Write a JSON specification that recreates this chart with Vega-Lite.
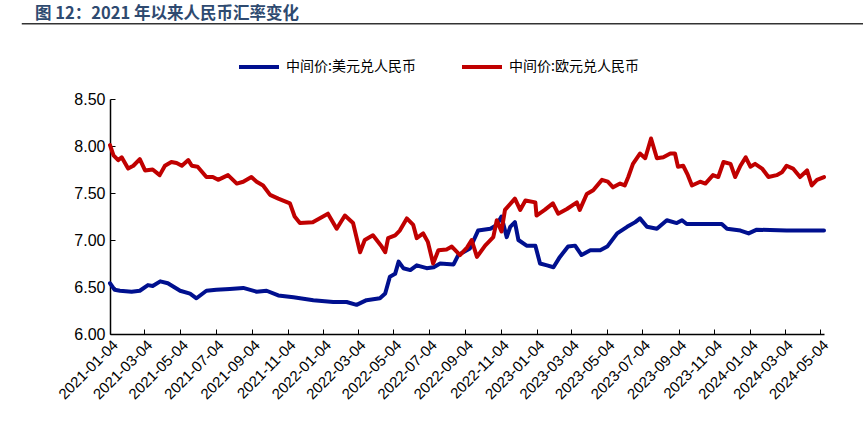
{
  "$schema": "https://vega.github.io/schema/vega-lite/v6.json",
  "autosize": "none",
  "width": 714,
  "height": 235,
  "padding": {"left": 110, "top": 99, "right": 39, "bottom": 109},
  "background": "white",
  "title": {
    "text": "图 12：2021 年以来人民币汇率变化",
    "anchor": "start",
    "frame": "group",
    "dx": -75,
    "offset": 1,
    "font": "Noto Sans CJK SC",
    "fontSize": 16.5,
    "fontWeight": "bold",
    "color": "#2E4A70"
  },
  "config": {
    "view": {"stroke": null},
    "axis": {
      "labelFont": "Liberation Sans",
      "labelColor": "#000",
      "domainColor": "#000",
      "domainWidth": 1.5,
      "tickColor": "#000",
      "tickWidth": 1,
      "tickSize": -5,
      "grid": false,
      "title": null,
      "labelOverlap": false
    },
    "axisX": {"labelOverlap": false}
  },
  "layer": [
    {
      "data": {"values": [
        {"series": "中间价:美元兑人民币", "date": "2021-01-04", "value": 6.54},
        {"series": "中间价:美元兑人民币", "date": "2021-01-12", "value": 6.47},
        {"series": "中间价:美元兑人民币", "date": "2021-01-21", "value": 6.46},
        {"series": "中间价:美元兑人民币", "date": "2021-02-10", "value": 6.45},
        {"series": "中间价:美元兑人民币", "date": "2021-02-24", "value": 6.46},
        {"series": "中间价:美元兑人民币", "date": "2021-03-10", "value": 6.52},
        {"series": "中间价:美元兑人民币", "date": "2021-03-18", "value": 6.51},
        {"series": "中间价:美元兑人民币", "date": "2021-03-31", "value": 6.56},
        {"series": "中间价:美元兑人民币", "date": "2021-04-13", "value": 6.54},
        {"series": "中间价:美元兑人民币", "date": "2021-05-04", "value": 6.46},
        {"series": "中间价:美元兑人民币", "date": "2021-05-21", "value": 6.43},
        {"series": "中间价:美元兑人民币", "date": "2021-06-01", "value": 6.38},
        {"series": "中间价:美元兑人民币", "date": "2021-06-18", "value": 6.46},
        {"series": "中间价:美元兑人民币", "date": "2021-07-05", "value": 6.47},
        {"series": "中间价:美元兑人民币", "date": "2021-07-28", "value": 6.48},
        {"series": "中间价:美元兑人民币", "date": "2021-08-20", "value": 6.49},
        {"series": "中间价:美元兑人民币", "date": "2021-09-12", "value": 6.45},
        {"series": "中间价:美元兑人民币", "date": "2021-09-29", "value": 6.46},
        {"series": "中间价:美元兑人民币", "date": "2021-10-19", "value": 6.41},
        {"series": "中间价:美元兑人民币", "date": "2021-11-14", "value": 6.39},
        {"series": "中间价:美元兑人民币", "date": "2021-12-18", "value": 6.36},
        {"series": "中间价:美元兑人民币", "date": "2022-01-21", "value": 6.34},
        {"series": "中间价:美元兑人民币", "date": "2022-02-13", "value": 6.34},
        {"series": "中间价:美元兑人民币", "date": "2022-03-02", "value": 6.31},
        {"series": "中间价:美元兑人民币", "date": "2022-03-19", "value": 6.36},
        {"series": "中间价:美元兑人民币", "date": "2022-04-11", "value": 6.38},
        {"series": "中间价:美元兑人民币", "date": "2022-04-20", "value": 6.43},
        {"series": "中间价:美元兑人民币", "date": "2022-04-28", "value": 6.61},
        {"series": "中间价:美元兑人民币", "date": "2022-05-07", "value": 6.64},
        {"series": "中间价:美元兑人民币", "date": "2022-05-13", "value": 6.77},
        {"series": "中间价:美元兑人民币", "date": "2022-05-21", "value": 6.70},
        {"series": "中间价:美元兑人民币", "date": "2022-06-02", "value": 6.68},
        {"series": "中间价:美元兑人民币", "date": "2022-06-13", "value": 6.73},
        {"series": "中间价:美元兑人民币", "date": "2022-06-30", "value": 6.70},
        {"series": "中间价:美元兑人民币", "date": "2022-07-12", "value": 6.71},
        {"series": "中间价:美元兑人民币", "date": "2022-07-23", "value": 6.75},
        {"series": "中间价:美元兑人民币", "date": "2022-08-15", "value": 6.74},
        {"series": "中间价:美元兑人民币", "date": "2022-08-23", "value": 6.84},
        {"series": "中间价:美元兑人民币", "date": "2022-09-12", "value": 6.91},
        {"series": "中间价:美元兑人民币", "date": "2022-09-26", "value": 7.10},
        {"series": "中间价:美元兑人民币", "date": "2022-10-17", "value": 7.12},
        {"series": "中间价:美元兑人民币", "date": "2022-10-28", "value": 7.16},
        {"series": "中间价:美元兑人民币", "date": "2022-11-05", "value": 7.25},
        {"series": "中间价:美元兑人民币", "date": "2022-11-14", "value": 7.03},
        {"series": "中间价:美元兑人民币", "date": "2022-11-20", "value": 7.14},
        {"series": "中间价:美元兑人民币", "date": "2022-11-28", "value": 7.19},
        {"series": "中间价:美元兑人民币", "date": "2022-12-04", "value": 7.00},
        {"series": "中间价:美元兑人民币", "date": "2022-12-18", "value": 6.94},
        {"series": "中间价:美元兑人民币", "date": "2023-01-02", "value": 6.94},
        {"series": "中间价:美元兑人民币", "date": "2023-01-10", "value": 6.75},
        {"series": "中间价:美元兑人民币", "date": "2023-01-22", "value": 6.73},
        {"series": "中间价:美元兑人民币", "date": "2023-02-02", "value": 6.71},
        {"series": "中间价:美元兑人民币", "date": "2023-02-13", "value": 6.82},
        {"series": "中间价:美元兑人民币", "date": "2023-02-27", "value": 6.93},
        {"series": "中间价:美元兑人民币", "date": "2023-03-11", "value": 6.94},
        {"series": "中间价:美元兑人民币", "date": "2023-03-22", "value": 6.84},
        {"series": "中间价:美元兑人民币", "date": "2023-04-06", "value": 6.89},
        {"series": "中间价:美元兑人民币", "date": "2023-04-23", "value": 6.89},
        {"series": "中间价:美元兑人民币", "date": "2023-05-05", "value": 6.93},
        {"series": "中间价:美元兑人民币", "date": "2023-05-22", "value": 7.07},
        {"series": "中间价:美元兑人民币", "date": "2023-06-08", "value": 7.14},
        {"series": "中间价:美元兑人民币", "date": "2023-06-22", "value": 7.19},
        {"series": "中间价:美元兑人民币", "date": "2023-06-30", "value": 7.23},
        {"series": "中间价:美元兑人民币", "date": "2023-07-12", "value": 7.14},
        {"series": "中间价:美元兑人民币", "date": "2023-07-29", "value": 7.12},
        {"series": "中间价:美元兑人民币", "date": "2023-08-15", "value": 7.21},
        {"series": "中间价:美元兑人民币", "date": "2023-09-01", "value": 7.18},
        {"series": "中间价:美元兑人民币", "date": "2023-09-10", "value": 7.21},
        {"series": "中间价:美元兑人民币", "date": "2023-09-18", "value": 7.17},
        {"series": "中间价:美元兑人民币", "date": "2023-10-17", "value": 7.17},
        {"series": "中间价:美元兑人民币", "date": "2023-11-17", "value": 7.17},
        {"series": "中间价:美元兑人民币", "date": "2023-11-26", "value": 7.12},
        {"series": "中间价:美元兑人民币", "date": "2023-12-19", "value": 7.10},
        {"series": "中间价:美元兑人民币", "date": "2024-01-02", "value": 7.07},
        {"series": "中间价:美元兑人民币", "date": "2024-01-16", "value": 7.11},
        {"series": "中间价:美元兑人民币", "date": "2024-03-07", "value": 7.10},
        {"series": "中间价:美元兑人民币", "date": "2024-05-10", "value": 7.10},
        {"series": "中间价:欧元兑人民币", "date": "2021-01-04", "value": 8.01},
        {"series": "中间价:欧元兑人民币", "date": "2021-01-10", "value": 7.90},
        {"series": "中间价:欧元兑人民币", "date": "2021-01-18", "value": 7.85},
        {"series": "中间价:欧元兑人民币", "date": "2021-01-24", "value": 7.88},
        {"series": "中间价:欧元兑人民币", "date": "2021-02-04", "value": 7.76},
        {"series": "中间价:欧元兑人民币", "date": "2021-02-13", "value": 7.79},
        {"series": "中间价:欧元兑人民币", "date": "2021-02-24", "value": 7.86},
        {"series": "中间价:欧元兑人民币", "date": "2021-03-05", "value": 7.74},
        {"series": "中间价:欧元兑人民币", "date": "2021-03-18", "value": 7.75},
        {"series": "中间价:欧元兑人民币", "date": "2021-03-30", "value": 7.69},
        {"series": "中间价:欧元兑人民币", "date": "2021-04-08", "value": 7.79},
        {"series": "中间价:欧元兑人民币", "date": "2021-04-19", "value": 7.83},
        {"series": "中间价:欧元兑人民币", "date": "2021-04-28", "value": 7.82},
        {"series": "中间价:欧元兑人民币", "date": "2021-05-07", "value": 7.79},
        {"series": "中间价:欧元兑人民币", "date": "2021-05-18", "value": 7.85},
        {"series": "中间价:欧元兑人民币", "date": "2021-05-24", "value": 7.79},
        {"series": "中间价:欧元兑人民币", "date": "2021-06-03", "value": 7.78},
        {"series": "中间价:欧元兑人民币", "date": "2021-06-18", "value": 7.67},
        {"series": "中间价:欧元兑人民币", "date": "2021-06-29", "value": 7.67},
        {"series": "中间价:欧元兑人民币", "date": "2021-07-08", "value": 7.64},
        {"series": "中间价:欧元兑人民币", "date": "2021-07-25", "value": 7.69},
        {"series": "中间价:欧元兑人民币", "date": "2021-08-09", "value": 7.60},
        {"series": "中间价:欧元兑人民币", "date": "2021-08-20", "value": 7.62},
        {"series": "中间价:欧元兑人民币", "date": "2021-09-03", "value": 7.67},
        {"series": "中间价:欧元兑人民币", "date": "2021-09-12", "value": 7.62},
        {"series": "中间价:欧元兑人民币", "date": "2021-09-23", "value": 7.58},
        {"series": "中间价:欧元兑人民币", "date": "2021-10-05", "value": 7.48},
        {"series": "中间价:欧元兑人民币", "date": "2021-10-19", "value": 7.44},
        {"series": "中间价:欧元兑人民币", "date": "2021-11-08", "value": 7.39},
        {"series": "中间价:欧元兑人民币", "date": "2021-11-16", "value": 7.25},
        {"series": "中间价:欧元兑人民币", "date": "2021-11-25", "value": 7.18},
        {"series": "中间价:欧元兑人民币", "date": "2021-12-17", "value": 7.19},
        {"series": "中间价:欧元兑人民币", "date": "2022-01-12", "value": 7.28},
        {"series": "中间价:欧元兑人民币", "date": "2022-01-27", "value": 7.12},
        {"series": "中间价:欧元兑人民币", "date": "2022-02-10", "value": 7.26},
        {"series": "中间价:欧元兑人民币", "date": "2022-02-24", "value": 7.18},
        {"series": "中间价:欧元兑人民币", "date": "2022-03-08", "value": 6.87},
        {"series": "中间价:欧元兑人民币", "date": "2022-03-16", "value": 7.00},
        {"series": "中间价:欧元兑人民币", "date": "2022-03-30", "value": 7.05},
        {"series": "中间价:欧元兑人民币", "date": "2022-04-14", "value": 6.93},
        {"series": "中间价:欧元兑人民币", "date": "2022-04-20", "value": 6.87},
        {"series": "中间价:欧元兑人民币", "date": "2022-04-25", "value": 7.02},
        {"series": "中间价:欧元兑人民币", "date": "2022-05-07", "value": 7.05},
        {"series": "中间价:欧元兑人民币", "date": "2022-05-15", "value": 7.10},
        {"series": "中间价:欧元兑人民币", "date": "2022-05-27", "value": 7.23},
        {"series": "中间价:欧元兑人民币", "date": "2022-06-07", "value": 7.16},
        {"series": "中间价:欧元兑人民币", "date": "2022-06-13", "value": 7.02},
        {"series": "中间价:欧元兑人民币", "date": "2022-06-24", "value": 7.07},
        {"series": "中间价:欧元兑人民币", "date": "2022-07-02", "value": 6.98},
        {"series": "中间价:欧元兑人民币", "date": "2022-07-11", "value": 6.75},
        {"series": "中间价:欧元兑人民币", "date": "2022-07-20", "value": 6.89},
        {"series": "中间价:欧元兑人民币", "date": "2022-08-03", "value": 6.90},
        {"series": "中间价:欧元兑人民币", "date": "2022-08-12", "value": 6.93},
        {"series": "中间价:欧元兑人民币", "date": "2022-08-26", "value": 6.84},
        {"series": "中间价:欧元兑人民币", "date": "2022-09-07", "value": 6.92},
        {"series": "中间价:欧元兑人民币", "date": "2022-09-15", "value": 7.00},
        {"series": "中间价:欧元兑人民币", "date": "2022-09-24", "value": 6.82},
        {"series": "中间价:欧元兑人民币", "date": "2022-10-08", "value": 6.94},
        {"series": "中间价:欧元兑人民币", "date": "2022-10-22", "value": 7.03},
        {"series": "中间价:欧元兑人民币", "date": "2022-10-28", "value": 7.21},
        {"series": "中间价:欧元兑人民币", "date": "2022-11-05", "value": 7.09},
        {"series": "中间价:欧元兑人民币", "date": "2022-11-11", "value": 7.32},
        {"series": "中间价:欧元兑人民币", "date": "2022-11-28", "value": 7.44},
        {"series": "中间价:欧元兑人民币", "date": "2022-12-07", "value": 7.32},
        {"series": "中间价:欧元兑人民币", "date": "2022-12-16", "value": 7.42},
        {"series": "中间价:欧元兑人民币", "date": "2023-01-02", "value": 7.40},
        {"series": "中间价:欧元兑人民币", "date": "2023-01-04", "value": 7.26},
        {"series": "中间价:欧元兑人民币", "date": "2023-01-18", "value": 7.32},
        {"series": "中间价:欧元兑人民币", "date": "2023-02-01", "value": 7.39},
        {"series": "中间价:欧元兑人民币", "date": "2023-02-10", "value": 7.28},
        {"series": "中间价:欧元兑人民币", "date": "2023-02-25", "value": 7.33},
        {"series": "中间价:欧元兑人民币", "date": "2023-03-14", "value": 7.40},
        {"series": "中间价:欧元兑人民币", "date": "2023-03-19", "value": 7.32},
        {"series": "中间价:欧元兑人民币", "date": "2023-03-31", "value": 7.49},
        {"series": "中间价:欧元兑人民币", "date": "2023-04-11", "value": 7.53},
        {"series": "中间价:欧元兑人民币", "date": "2023-04-26", "value": 7.64},
        {"series": "中间价:欧元兑人民币", "date": "2023-05-06", "value": 7.62},
        {"series": "中间价:欧元兑人民币", "date": "2023-05-15", "value": 7.56},
        {"series": "中间价:欧元兑人民币", "date": "2023-05-27", "value": 7.60},
        {"series": "中间价:欧元兑人民币", "date": "2023-06-04", "value": 7.58},
        {"series": "中间价:欧元兑人民币", "date": "2023-06-10", "value": 7.67},
        {"series": "中间价:欧元兑人民币", "date": "2023-06-18", "value": 7.81},
        {"series": "中间价:欧元兑人民币", "date": "2023-06-30", "value": 7.92},
        {"series": "中间价:欧元兑人民币", "date": "2023-07-09", "value": 7.87},
        {"series": "中间价:欧元兑人民币", "date": "2023-07-19", "value": 8.08},
        {"series": "中间价:欧元兑人民币", "date": "2023-07-29", "value": 7.87},
        {"series": "中间价:欧元兑人民币", "date": "2023-08-09", "value": 7.88},
        {"series": "中间价:欧元兑人民币", "date": "2023-08-21", "value": 7.92},
        {"series": "中间价:欧元兑人民币", "date": "2023-08-29", "value": 7.92},
        {"series": "中间价:欧元兑人民币", "date": "2023-09-03", "value": 7.78},
        {"series": "中间价:欧元兑人民币", "date": "2023-09-12", "value": 7.79},
        {"series": "中间价:欧元兑人民币", "date": "2023-09-20", "value": 7.69},
        {"series": "中间价:欧元兑人民币", "date": "2023-09-27", "value": 7.58},
        {"series": "中间价:欧元兑人民币", "date": "2023-10-11", "value": 7.62},
        {"series": "中间价:欧元兑人民币", "date": "2023-10-20", "value": 7.60},
        {"series": "中间价:欧元兑人民币", "date": "2023-11-02", "value": 7.69},
        {"series": "中间价:欧元兑人民币", "date": "2023-11-11", "value": 7.67},
        {"series": "中间价:欧元兑人民币", "date": "2023-11-20", "value": 7.83},
        {"series": "中间价:欧元兑人民币", "date": "2023-12-02", "value": 7.81},
        {"series": "中间价:欧元兑人民币", "date": "2023-12-10", "value": 7.67},
        {"series": "中间价:欧元兑人民币", "date": "2023-12-19", "value": 7.79},
        {"series": "中间价:欧元兑人民币", "date": "2023-12-28", "value": 7.88},
        {"series": "中间价:欧元兑人民币", "date": "2024-01-05", "value": 7.78},
        {"series": "中间价:欧元兑人民币", "date": "2024-01-13", "value": 7.81},
        {"series": "中间价:欧元兑人民币", "date": "2024-01-25", "value": 7.76},
        {"series": "中间价:欧元兑人民币", "date": "2024-02-05", "value": 7.67},
        {"series": "中间价:欧元兑人民币", "date": "2024-02-19", "value": 7.69},
        {"series": "中间价:欧元兑人民币", "date": "2024-02-28", "value": 7.72},
        {"series": "中间价:欧元兑人民币", "date": "2024-03-07", "value": 7.79},
        {"series": "中间价:欧元兑人民币", "date": "2024-03-18", "value": 7.76},
        {"series": "中间价:欧元兑人民币", "date": "2024-03-30", "value": 7.67},
        {"series": "中间价:欧元兑人民币", "date": "2024-04-11", "value": 7.74},
        {"series": "中间价:欧元兑人民币", "date": "2024-04-19", "value": 7.58},
        {"series": "中间价:欧元兑人民币", "date": "2024-04-28", "value": 7.64},
        {"series": "中间价:欧元兑人民币", "date": "2024-05-10", "value": 7.67}
      ]},
      "mark": {"type": "line", "strokeWidth": 4, "strokeJoin": "round", "strokeCap": "round"},
      "encoding": {
        "x": {
          "field": "date",
          "type": "temporal",
          "scale": {"domain": [{"year": 2021, "month": 1, "date": 4}, {"year": 2024, "month": 5, "date": 10}]},
          "axis": {
            "values": [
              {"year": 2021, "month": 1, "date": 4}, {"year": 2021, "month": 3, "date": 4},
              {"year": 2021, "month": 5, "date": 4}, {"year": 2021, "month": 7, "date": 4},
              {"year": 2021, "month": 9, "date": 4}, {"year": 2021, "month": 11, "date": 4},
              {"year": 2022, "month": 1, "date": 4}, {"year": 2022, "month": 3, "date": 4},
              {"year": 2022, "month": 5, "date": 4}, {"year": 2022, "month": 7, "date": 4},
              {"year": 2022, "month": 9, "date": 4}, {"year": 2022, "month": 11, "date": 4},
              {"year": 2023, "month": 1, "date": 4}, {"year": 2023, "month": 3, "date": 4},
              {"year": 2023, "month": 5, "date": 4}, {"year": 2023, "month": 7, "date": 4},
              {"year": 2023, "month": 9, "date": 4}, {"year": 2023, "month": 11, "date": 4},
              {"year": 2024, "month": 1, "date": 4}, {"year": 2024, "month": 3, "date": 4},
              {"year": 2024, "month": 5, "date": 4}
            ],
            "tickCount": 40,
            "format": "%Y-%m-%d",
            "labelAngle": -45,
            "labelFontSize": 15,
            "labelPadding": 8,
            "labelOverlap": false,
            "labelFlush": false
          }
        },
        "y": {
          "field": "value",
          "type": "quantitative",
          "scale": {"domain": [6, 8.5], "zero": false, "nice": false},
          "axis": {
            "values": [6, 6.5, 7, 7.5, 8, 8.5],
            "format": ".2f",
            "labelFontSize": 16,
            "labelPadding": 10
          }
        },
        "color": {
          "field": "series",
          "type": "nominal",
          "scale": {"domain": ["中间价:美元兑人民币", "中间价:欧元兑人民币"], "range": ["#00108F", "#C00000"]},
          "legend": {
            "title": null,
            "orient": "none",
            "legendX": 127,
            "legendY": -54,
            "direction": "horizontal",
            "symbolType": "stroke",
            "symbolSize": 1600,
            "symbolStrokeWidth": 4,
            "labelFont": "Noto Sans CJK SC",
            "labelFontSize": 14,
            "labelColor": "#000",
            "labelOffset": 5,
            "columnPadding": 38
          }
        }
      }
    },
    {
      "data": {"values": [{}]},
      "mark": {"type": "rule", "clip": false, "color": "#333333", "strokeWidth": 1.5},
      "encoding": {
        "x": {"datum": {"year": 2020, "month": 8, "date": 6}, "type": "temporal"},
        "x2": {"datum": {"year": 2024, "month": 7, "date": 16}},
        "y": {"datum": 9.30, "type": "quantitative"}
      }
    }
  ]
}
